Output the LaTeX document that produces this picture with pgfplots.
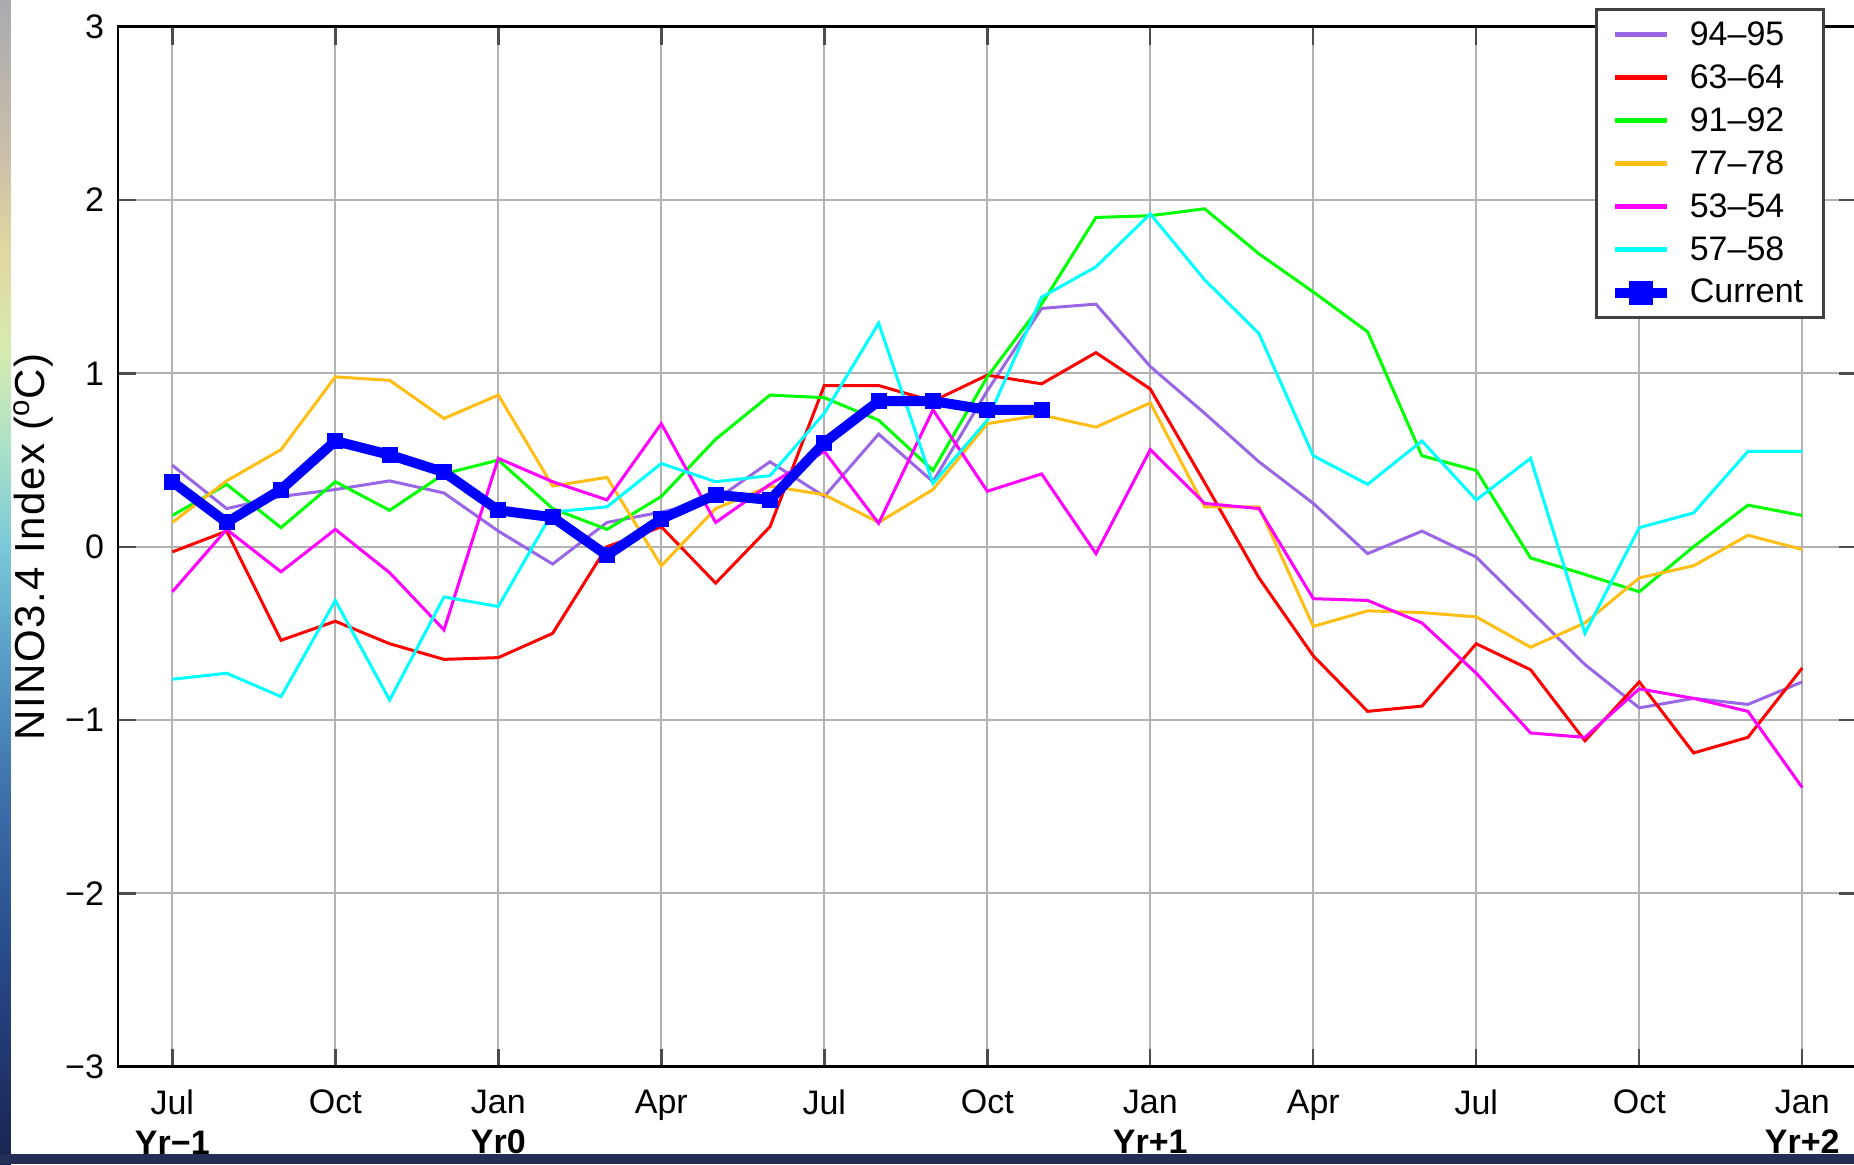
\documentclass[border=0pt]{standalone}
\usepackage{pgfplots}
\pgfplotsset{compat=1.18}
\usepackage{fontspec}
\setmainfont{Liberation Sans}
\definecolor{cpurple}{RGB}{153,102,230}
\definecolor{cred}{RGB}{255,0,0}
\definecolor{cgreen}{RGB}{0,255,0}
\definecolor{corange}{RGB}{255,190,20}
\definecolor{cmag}{RGB}{255,0,255}
\definecolor{ccyan}{RGB}{0,255,255}
\definecolor{cblue}{RGB}{0,0,255}
\definecolor{navyband}{RGB}{35,45,85}
\definecolor{o0}{RGB}{25,35,80}
\definecolor{o1}{RGB}{40,75,140}
\definecolor{o2}{RGB}{60,110,170}
\definecolor{o3}{RGB}{90,160,200}
\definecolor{o4}{RGB}{120,200,215}
\definecolor{o5}{RGB}{170,225,200}
\definecolor{o6}{RGB}{215,235,175}
\definecolor{o7}{RGB}{225,215,160}
\definecolor{o8}{RGB}{200,190,170}
\definecolor{o9}{RGB}{170,170,175}
\pgfdeclareverticalshading{ocean}{100bp}{color(0bp)=(o0); color(25bp)=(o0); color(34.2bp)=(o1); color(40.6bp)=(o2); color(47.1bp)=(o3); color(51.4bp)=(o4); color(55.7bp)=(o5); color(60bp)=(o6); color(64.3bp)=(o7); color(68.6bp)=(o8); color(75bp)=(o9); color(100bp)=(o9)}
\begin{document}
\begin{tikzpicture}
\fill[white] (-59pt,-48.7pt) rectangle (868pt,533.3pt);
\shade[shading=ocean] (-59pt,-48.7pt) rectangle (-53.5pt,533.3pt);
\fill[navyband] (-59pt,-48.7pt) rectangle (868pt,-43.7pt);
\begin{axis}[
  at={(0pt,0pt)}, anchor=south west,
  scale only axis, width=869.3pt, height=519.9pt,
  xmin=-1, xmax=31, ymin=-3, ymax=3,
  font=\fontsize{17}{20}\selectfont,
  xtick={0,3,...,30},
  xticklabels={Jul\\\textbf{Yr−1}, Oct, Jan\\\textbf{Yr0}, Apr, Jul, Oct, Jan\\\textbf{Yr+1}, Apr, Jul, Oct, Jan\\\textbf{Yr+2}},
  xticklabel style={align=center, font=\fontsize{17}{20}\selectfont, yshift=-8pt},
  ytick={-3,-2,-1,0,1,2,3},
  yticklabels={−3,−2,−1,0,1,2,3},
  yticklabel style={font=\fontsize{17}{20}\selectfont, xshift=-3.5pt},
  ylabel={NINO3.4 Index (\textsuperscript{o}C)},
  ylabel style={at={(axis description cs:-0.0489,0.5)}, anchor=center, font=\fontsize{21}{25}\selectfont\addfontfeatures{LetterSpace=4}},
  grid=major,
  major grid style={draw=black!30, line width=1pt},
  tick align=inside,
  major tick length=9pt,
  tick style={draw=black!70, line width=1.2pt},
  axis line style={black, line width=1.4pt},
  legend cell align=left,
  legend style={at={(0.982,1.018)}, anchor=north east, draw=black!75, line width=1.5pt,
    font=\fontsize{17}{20}\selectfont, inner xsep=7pt, inner ysep=4pt, row sep=4.1pt,
    nodes={inner ysep=2pt, inner xsep=3.3pt}},
  legend image code/.code={\draw[#1, line width=2.5pt] (0pt,0pt) -- (26pt,0pt); \path (31.4pt,0pt);},
]
\addplot[cpurple, line width=1.5pt] coordinates {(0,0.47) (1,0.22) (2,0.29) (3,0.33) (4,0.38) (5,0.31) (6,0.09) (7,-0.10) (8,0.14) (9,0.20) (10,0.27) (11,0.49) (12,0.29) (13,0.65) (14,0.375) (15,0.90) (16,1.375) (17,1.40) (18,1.04) (19,0.77) (20,0.49) (21,0.25) (22,-0.04) (23,0.09) (24,-0.06) (25,-0.37) (26,-0.68) (27,-0.93) (28,-0.875) (29,-0.91) (30,-0.78)};
\addlegendentry{94–95}
\addplot[cred, line width=1.5pt] coordinates {(0,-0.03) (1,0.09) (2,-0.54) (3,-0.43) (4,-0.56) (5,-0.65) (6,-0.64) (7,-0.50) (8,0.0) (9,0.115) (10,-0.21) (11,0.115) (12,0.93) (13,0.93) (14,0.84) (15,0.99) (16,0.94) (17,1.12) (18,0.91) (19,0.37) (20,-0.18) (21,-0.63) (22,-0.95) (23,-0.92) (24,-0.56) (25,-0.71) (26,-1.12) (27,-0.78) (28,-1.19) (29,-1.10) (30,-0.70)};
\addlegendentry{63–64}
\addplot[cgreen, line width=1.5pt] coordinates {(0,0.18) (1,0.36) (2,0.11) (3,0.375) (4,0.21) (5,0.42) (6,0.50) (7,0.22) (8,0.10) (9,0.29) (10,0.62) (11,0.875) (12,0.86) (13,0.73) (14,0.44) (15,0.98) (16,1.40) (17,1.90) (18,1.91) (19,1.95) (20,1.69) (21,1.47) (22,1.24) (23,0.525) (24,0.44) (25,-0.065) (26,-0.16) (27,-0.26) (28,0.0) (29,0.24) (30,0.18)};
\addlegendentry{91–92}
\addplot[corange, line width=1.5pt] coordinates {(0,0.14) (1,0.38) (2,0.56) (3,0.98) (4,0.96) (5,0.74) (6,0.875) (7,0.35) (8,0.40) (9,-0.11) (10,0.22) (11,0.35) (12,0.30) (13,0.14) (14,0.33) (15,0.71) (16,0.76) (17,0.69) (18,0.83) (19,0.23) (20,0.23) (21,-0.46) (22,-0.37) (23,-0.38) (24,-0.405) (25,-0.58) (26,-0.44) (27,-0.18) (28,-0.11) (29,0.066) (30,-0.016)};
\addlegendentry{77–78}
\addplot[cmag, line width=1.5pt] coordinates {(0,-0.26) (1,0.10) (2,-0.145) (3,0.10) (4,-0.15) (5,-0.48) (6,0.51) (7,0.375) (8,0.27) (9,0.71) (10,0.14) (11,0.36) (12,0.55) (13,0.135) (14,0.79) (15,0.32) (16,0.42) (17,-0.04) (18,0.56) (19,0.25) (20,0.22) (21,-0.30) (22,-0.31) (23,-0.44) (24,-0.73) (25,-1.075) (26,-1.10) (27,-0.82) (28,-0.875) (29,-0.95) (30,-1.39)};
\addlegendentry{53–54}
\addplot[ccyan, line width=1.5pt] coordinates {(0,-0.765) (1,-0.73) (2,-0.865) (3,-0.31) (4,-0.885) (5,-0.29) (6,-0.345) (7,0.20) (8,0.23) (9,0.48) (10,0.375) (11,0.41) (12,0.77) (13,1.29) (14,0.365) (15,0.73) (16,1.44) (17,1.615) (18,1.92) (19,1.54) (20,1.23) (21,0.525) (22,0.36) (23,0.61) (24,0.27) (25,0.51) (26,-0.50) (27,0.11) (28,0.195) (29,0.55) (30,0.55)};
\addlegendentry{57–58}
\addplot[cblue, line width=5pt, mark=square*, mark size=3.75pt, mark options={solid, line width=0.5pt},
  legend image code/.code={\draw[cblue, line width=5pt] (0pt,0pt) -- (26pt,0pt); \fill[cblue] (9.5pt,-3.5pt) rectangle (16.5pt,3.5pt); \path (31.4pt,0pt);}]
  coordinates {(0,0.375) (1,0.14) (2,0.33) (3,0.61) (4,0.53) (5,0.43) (6,0.21) (7,0.17) (8,-0.05) (9,0.16) (10,0.30) (11,0.27) (12,0.60) (13,0.84) (14,0.84) (15,0.79) (16,0.79)};
\addlegendentry{Current}
\end{axis}
\pgfresetboundingbox
\useasboundingbox (-59pt,-48.7pt) rectangle (868pt,533.3pt);
\end{tikzpicture}
\end{document}
